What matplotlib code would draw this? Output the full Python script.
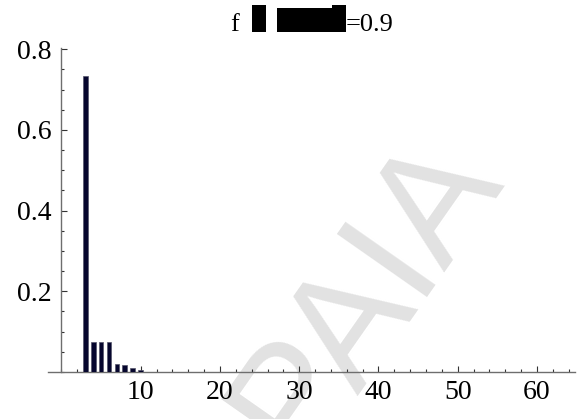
import matplotlib
matplotlib.use("Agg")
import matplotlib.pyplot as plt
from matplotlib.patches import Rectangle
from matplotlib.ticker import MultipleLocator

# distribution values, one bar per position
positions = [3, 4, 5, 6, 7, 8, 9, 10]
values = [0.734, 0.075, 0.075, 0.075, 0.021, 0.017, 0.011, 0.005]

x_major = [10, 20, 30, 40, 50, 60]
y_major = [0.2, 0.4, 0.6, 0.8]

W, H = 582, 419
plt.rcParams['font.family'] = ['Liberation Serif', 'DejaVu Serif']

fig = plt.figure(figsize=(W / 100, H / 100), dpi=100)
ax = fig.add_axes([48 / W, 1 - 372 / H, 527 / W, 324 / H])
ax.patch.set_visible(False)

ax.bar(positions, values, width=0.6, color='#06062e',
       edgecolor='#55556a', linewidth=0.5, zorder=3)

ax.set_xlim(-1.7, 64.8)
ax.set_ylim(0, 0.803)

for s in ('top', 'right'):
    ax.spines[s].set_visible(False)
ax.spines['left'].set_position(('data', 0))
ax.spines['bottom'].set_position(('data', 0))
for s in ('left', 'bottom'):
    ax.spines[s].set_color('#6e6e6e')
    ax.spines[s].set_linewidth(1.0)

ax.set_xticks(x_major)
ax.set_yticks(y_major)
ax.set_xticklabels([str(v) for v in x_major])
ax.set_yticklabels([f"{v:.1f}" for v in y_major])
ax.xaxis.set_minor_locator(MultipleLocator(2))
ax.yaxis.set_minor_locator(MultipleLocator(0.05))
ax.tick_params(which='both', direction='in', color='#333333', width=0.8,
               labelsize=20)
ax.tick_params(which='major', length=4)
ax.tick_params(which='minor', length=2.5)
ax.tick_params(axis='y', pad=7)
ax.tick_params(axis='x', pad=6)

# title pieces with the blacked-out middle
fig.text(230 / W, 1 - 31 / H, "f", fontsize=19, va='baseline', ha='left')
fig.text(346 / W, 1 - 31 / H, "=0.9", fontsize=19, va='baseline', ha='left')
for x0, y0, x1, y1 in [(252, 5, 266, 32), (277, 8, 346, 32),
                       (332, 5, 346, 32)]:
    fig.patches.append(Rectangle((x0 / W, 1 - y1 / H), (x1 - x0) / W,
                                 (y1 - y0) / H, transform=fig.transFigure,
                                 facecolor='black', edgecolor='none'))

# watermark, drawn beneath the axes
fig.text(299 / W, 1 - 462 / H, "PAIA", fontsize=115, color='#e2e2e2',
         family='Liberation Sans', rotation=55, rotation_mode='anchor',
         ha='left', va='baseline', zorder=-1)

fig.savefig("out.png", dpi=100)
